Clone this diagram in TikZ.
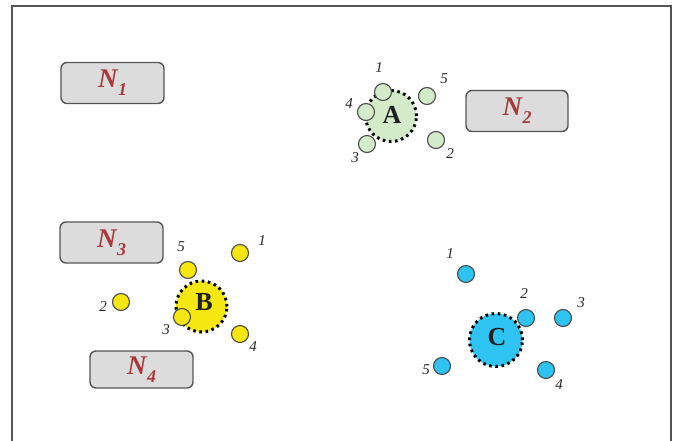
\documentclass[tikz,border=0pt]{standalone}
\usepackage{fontspec}
\setmainfont{Liberation Serif}
\definecolor{boxfill}{HTML}{DCDCDC}
\definecolor{boxline}{HTML}{555555}
\definecolor{nred}{HTML}{A63A3A}
\definecolor{gfill}{HTML}{D3EBC9}
\definecolor{yfill}{HTML}{F6E612}
\definecolor{cfill}{HTML}{2EC3F0}
\definecolor{framecol}{HTML}{555555}
\newcommand{\nlab}[1]{N\kern0.5pt\raisebox{-8pt}{\fontsize{18}{19}\selectfont #1}}
\tikzset{
  nbox/.style={draw=boxline, line width=1.4pt, fill=boxfill, rounded corners=6pt,
    minimum width=#1, minimum height=41pt, inner sep=0pt,
    font=\fontsize{27}{29}\selectfont\bfseries\itshape, text=nred},
  nbox/.default=103pt,
  big/.style={circle, draw=black, fill=#1, line width=3pt, dash pattern=on 2.6pt off 3.6pt,
    minimum size=51pt, inner sep=0pt},
  small/.style={circle, draw=boxline!90!black, fill=#1, line width=1.1pt, minimum size=17pt, inner sep=0pt},
  bigtxt/.style={font=\fontsize{26}{28}\selectfont\bfseries, text=black!88, inner sep=0pt},
  num/.style={font=\fontsize{15}{17}\selectfont\itshape, text=black!85, inner sep=0pt},
}
\begin{document}
\begin{tikzpicture}[x=1pt,y=-1pt]
\useasboundingbox (0,0) rectangle (673,441);
% frame
\draw[framecol, line width=2pt] (11.5,441) coordinate (f1) -- (11.5,6) coordinate (f2) -- (671,6) coordinate (f3) -- (671,441) coordinate (f4);
% boxes
\node[nbox=103pt] (n1) at (112.5,83) {\nlab{1}};
\node[nbox=102pt] (n2) at (517,111) {\nlab{2}};
\node[nbox=103pt, minimum height=41pt] (n3) at (111.5,242.5) {\nlab{3}};
\node[nbox=103pt, minimum height=37pt] (n4) at (141.5,369.5) {\nlab{4}};
% A
\node[big=gfill] (A) at (391,116) {};
\node[bigtxt] (Atxt) at (392,115) {A};
\foreach \n/\x/\y in {1/383/92, 5/427/96, 4/366/112, 3/367/144, 2/436/140}
  \node[small=gfill] (a\n) at (\x,\y) {};
\foreach \n/\x/\y in {1/379/68, 5/444/79, 4/349/104, 3/355/158, 2/450/154}
  \node[num] (la\n) at (\x,\y) {\n};
% B
\node[big=yfill] (B) at (201.5,306.5) {};
\node[bigtxt] (Btxt) at (204,302) {B};
\foreach \n/\x/\y in {5/188/270, 1/240/253, 2/121/302, 3/182/317, 4/240/334}
  \node[small=yfill] (b\n) at (\x,\y) {};
\foreach \n/\x/\y in {5/181/247, 1/262/241, 2/103/307, 3/166/330, 4/253/347}
  \node[num] (lb\n) at (\x,\y) {\n};
% C
\node[big=cfill, minimum size=53pt] (C) at (496,340) {};
\node[bigtxt] (Ctxt) at (497,337) {C};
\foreach \n/\x/\y in {1/466/274, 2/526/318, 3/563/318, 4/546/370, 5/442/366}
  \node[small=cfill] (c\n) at (\x,\y) {};
\foreach \n/\x/\y in {1/450/254, 2/524/294, 3/581/303, 4/559/385, 5/426/370}
  \node[num] (lc\n) at (\x,\y) {\n};
\end{tikzpicture}
\end{document}
